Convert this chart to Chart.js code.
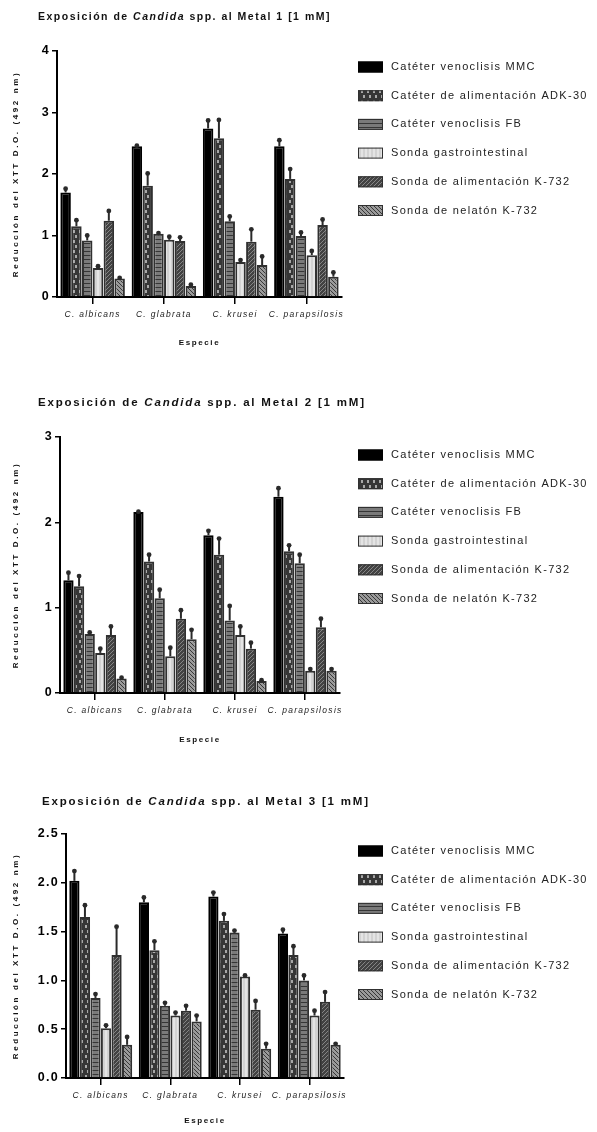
<!DOCTYPE html>
<html><head><meta charset="utf-8">
<script src="https://cdn.jsdelivr.net/npm/chart.js@4.4.1/dist/chart.umd.min.js"></script>
<style>
html,body{margin:0;padding:0;background:#fff;width:597px;height:1132px;overflow:hidden;}
.wrap{position:absolute;left:0;width:597px;}
canvas{display:block;}
</style></head><body>
<div class="wrap" style="top:0;height:375px"><canvas id="c1"></canvas></div>
<div class="wrap" style="top:380px;height:380px"><canvas id="c2"></canvas></div>
<div class="wrap" style="top:775px;height:357px"><canvas id="c3"></canvas></div>
<script>
// ---------- DATA ----------
const species = ['C. albicans', 'C. glabrata', 'C. krusei', 'C. parapsilosis'];
const devices = ['Catéter venoclisis MMC', 'Catéter de alimentación ADK-30', 'Catéter venoclisis FB',
                 'Sonda gastrointestinal', 'Sonda de alimentación K-732', 'Sonda de nelatón K-732'];
const yAxisTitle = 'Reducción del XTT D.O. (492 nm)';
const xAxisTitle = 'Especie';

// Metal 1
const m1_MMC  = [1.70, 2.45, 2.74, 2.45];  const m1_MMC_err  = [0.06, 0.01, 0.13, 0.10];
const m1_ADK  = [1.15, 1.81, 2.58, 1.92];  const m1_ADK_err  = [0.10, 0.20, 0.30, 0.16];
const m1_FB   = [0.92, 1.03, 1.23, 0.99];  const m1_FB_err   = [0.08, 0.01, 0.08, 0.06];
const m1_GAS  = [0.47, 0.93, 0.57, 0.68];  const m1_GAS_err  = [0.03, 0.05, 0.03, 0.07];
const m1_ALI  = [1.24, 0.91, 0.90, 1.17];  const m1_ALI_err  = [0.16, 0.06, 0.20, 0.09];
const m1_NEL  = [0.30, 0.18, 0.52, 0.33];  const m1_NEL_err  = [0.01, 0.02, 0.14, 0.07];
const m1_ticks = [0, 1, 2, 3, 4];

// Metal 2
const m2_MMC  = [1.32, 2.12, 1.85, 2.30];  const m2_MMC_err  = [0.09, 0.005, 0.05, 0.10];
const m2_ADK  = [1.25, 1.54, 1.62, 1.66];  const m2_ADK_err  = [0.12, 0.08, 0.19, 0.07];
const m2_FB   = [0.69, 1.11, 0.85, 1.52];  const m2_FB_err   = [0.02, 0.10, 0.17, 0.10];
const m2_GAS  = [0.47, 0.43, 0.68, 0.26];  const m2_GAS_err  = [0.05, 0.10, 0.10, 0.02];
const m2_ALI  = [0.68, 0.87, 0.52, 0.77];  const m2_ALI_err  = [0.10, 0.10, 0.07, 0.10];
const m2_NEL  = [0.17, 0.63, 0.14, 0.26];  const m2_NEL_err  = [0.01, 0.11, 0.01, 0.02];
const m2_ticks = [0, 1, 2, 3];

// Metal 3
const m3_MMC  = [2.02, 1.80, 1.86, 1.48];  const m3_MMC_err  = [0.10, 0.05, 0.04, 0.04];
const m3_ADK  = [1.65, 1.31, 1.61, 1.26];  const m3_ADK_err  = [0.12, 0.09, 0.07, 0.09];
const m3_FB   = [0.82, 0.74, 1.49, 1.00];  const m3_FB_err   = [0.04, 0.03, 0.02, 0.05];
const m3_GAS  = [0.51, 0.64, 1.04, 0.64];  const m3_GAS_err  = [0.03, 0.03, 0.01, 0.05];
const m3_ALI  = [1.26, 0.69, 0.70, 0.78];  const m3_ALI_err  = [0.29, 0.05, 0.09, 0.10];
const m3_NEL  = [0.34, 0.58, 0.30, 0.34];  const m3_NEL_err  = [0.08, 0.06, 0.05, 0.01];
const m3_ticks = [0, 0.5, 1.0, 1.5, 2.0, 2.5];

// ---------- PATTERNS ----------
function pat(w, h, draw) {
  const c = document.createElement('canvas'); c.width = w; c.height = h;
  const g = c.getContext('2d'); draw(g, w, h);
  return document.createElement('canvas').getContext('2d').createPattern(c, 'repeat');
}
const fills = [
  '#000000',
  pat(6, 10, g => { g.fillStyle = '#363636'; g.fillRect(0,0,6,10); g.fillStyle = '#a8a8a8'; g.fillRect(1,0,2,3); g.fillRect(3,5,2,3); }),
  pat(4, 4, g => { g.fillStyle = '#7a7a7a'; g.fillRect(0,0,4,4); g.fillStyle = '#363636'; g.fillRect(0,3,4,1); }),
  pat(4, 1, g => { g.fillStyle = '#d2d2d2'; g.fillRect(0,0,4,1); g.fillStyle = '#e4e4e4'; g.fillRect(1,0,2,1); }),
  pat(4, 4, g => { g.fillStyle = '#424242'; g.fillRect(0,0,4,4); g.fillStyle = '#858585'; for (let i=0;i<4;i++) g.fillRect(i,3-i,1,1); }),
  pat(4, 4, g => { g.fillStyle = '#9a9a9a'; g.fillRect(0,0,4,4); g.fillStyle = '#383838'; for (let i=0;i<4;i++) g.fillRect(i,i,1,1); })
];
const borders = ['#000', '#303030', '#303030', '#303030', '#303030', '#303030'];

const FONT = "'Liberation Sans', Arial, sans-serif";

// ---------- PLUGIN ----------
const decor = {
  id: 'decor',
  beforeDraw(chart) { chart.ctx.letterSpacing = '1.3px'; },
  afterDatasetsDraw(chart) {
    const ctx = chart.ctx, ys = chart.scales.y;
    ctx.save();
    chart.data.datasets.forEach((ds, di) => {
      const meta = chart.getDatasetMeta(di);
      meta.data.forEach((bar, j) => {
        const top = ys.getPixelForValue(ds.data[j]);
        const up = ys.getPixelForValue(ds.data[j] + ds.err[j]);
        ctx.strokeStyle = '#2a2a2a'; ctx.fillStyle = '#2a2a2a'; ctx.lineWidth = 2;
        ctx.beginPath(); ctx.moveTo(bar.x, top); ctx.lineTo(bar.x, up); ctx.stroke();
        ctx.beginPath(); ctx.arc(bar.x, up, 2.4, 0, Math.PI * 2); ctx.fill();
      });
    });
    ctx.restore();
  },
  afterDraw(chart) {
    const o = chart.options.plugins.decor, ctx = chart.ctx, a = chart.chartArea;
    ctx.save();
    // title
    ctx.textBaseline = 'middle'; ctx.textAlign = 'left'; ctx.fillStyle = '#111';
    ctx.letterSpacing = o.titleSpacing + 'px';
    let x = o.titleX;
    o.titleParts.forEach(p => {
      ctx.font = (p.italic ? 'italic ' : '') + 'bold ' + o.titleSize + 'px ' + FONT;
      ctx.fillText(p.text, x, o.titleY);
      x += ctx.measureText(p.text).width;
    });
    // y axis title
    ctx.save();
    ctx.translate(o.yTitleX, (a.top + a.bottom) / 2);
    ctx.rotate(-Math.PI / 2);
    ctx.textAlign = 'center'; ctx.font = 'bold 8px ' + FONT; ctx.letterSpacing = '2.6px';
    ctx.fillText(yAxisTitle, 0, 0);
    ctx.restore();
    // x axis title
    ctx.textAlign = 'center'; ctx.font = 'bold 8px ' + FONT; ctx.letterSpacing = '1.6px';
    ctx.fillText(xAxisTitle, (a.left + a.right) / 2, o.xTitleY);
    // legend
    ctx.textAlign = 'left'; ctx.font = '11px ' + FONT; ctx.letterSpacing = '1.3px';
    chart.data.datasets.forEach((ds, i) => {
      const cy = o.legendY + i * 28.7;
      ctx.fillStyle = ds.backgroundColor; ctx.fillRect(358, cy - 5.5, 25, 11);
      ctx.strokeStyle = ds.borderColor; ctx.lineWidth = 1; ctx.strokeRect(358.5, cy - 5, 24, 10);
      ctx.fillStyle = '#222';
      ctx.fillText(ds.label, 391, cy);
    });
    ctx.restore();
  }
};

function makeChart(id, cfg) {
  const seriesVals = cfg.values, seriesErr = cfg.errs;
  const h = cfg.height;
  return new Chart(document.getElementById(id), {
    type: 'bar',
    data: {
      labels: species,
      datasets: devices.map((d, i) => ({
        label: d, data: seriesVals[i], err: seriesErr[i],
        backgroundColor: fills[i], borderColor: borders[i], borderWidth: 2,
        categoryPercentage: 0.91, barPercentage: 0.97
      }))
    },
    options: {
      responsive: true, maintainAspectRatio: false, animation: false, devicePixelRatio: 1,
      layout: { padding: { top: cfg.area.top, right: 597 - cfg.area.right, bottom: 0, left: 0 } },
      plugins: {
        legend: { display: false }, tooltip: { enabled: false },
        decor: cfg.decor
      },
      scales: {
        x: {
          offset: true,
          grid: { offset: false, drawOnChartArea: false, drawTicks: true, tickLength: 7, color: '#000', lineWidth: 1.5 },
          border: { display: true, color: '#000', width: 2 },
          ticks: { color: '#222', font: { family: FONT, size: 8.5, style: 'italic' }, padding: 6, maxRotation: 0, autoSkip: false },
          afterFit: s => { s.height = h - cfg.area.bottom; }
        },
        y: {
          min: 0, max: cfg.ticks[cfg.ticks.length - 1],
          afterBuildTicks: s => { s.ticks = cfg.ticks.map(v => ({ value: v })); },
          grid: { drawOnChartArea: false, drawTicks: true, tickLength: 5, color: '#000', lineWidth: 1.5 },
          border: { display: true, color: '#000', width: 2 },
          ticks: { color: '#000', font: { family: FONT, size: 12.5, weight: 'bold' }, padding: 2,
                   callback: v => Number(v).toFixed(cfg.decimals) },
          afterFit: s => { s.width = cfg.area.left; }
        }
      }
    },
    plugins: [decor]
  });
}

const titleParts = n => [
  { text: 'Exposición de ', italic: false },
  { text: 'Candida', italic: true },
  { text: ' spp. al Metal ' + n + ' [1 mM]', italic: false }
];

makeChart('c1', {
  height: 375, area: { left: 57, top: 51, right: 342, bottom: 297 }, ticks: m1_ticks, decimals: 0,
  values: [m1_MMC, m1_ADK, m1_FB, m1_GAS, m1_ALI, m1_NEL],
  errs: [m1_MMC_err, m1_ADK_err, m1_FB_err, m1_GAS_err, m1_ALI_err, m1_NEL_err],
  decor: { titleParts: titleParts(1), titleX: 38, titleY: 17, titleSize: 10.5, titleSpacing: 1.5,
           yTitleX: 16, xTitleY: 343, legendY: 67 }
});
makeChart('c2', {
  height: 380, area: { left: 60, top: 57, right: 340, bottom: 313 }, ticks: m2_ticks, decimals: 0,
  values: [m2_MMC, m2_ADK, m2_FB, m2_GAS, m2_ALI, m2_NEL],
  errs: [m2_MMC_err, m2_ADK_err, m2_FB_err, m2_GAS_err, m2_ALI_err, m2_NEL_err],
  decor: { titleParts: titleParts(2), titleX: 38, titleY: 23, titleSize: 11.5, titleSpacing: 1.8,
           yTitleX: 16, xTitleY: 360, legendY: 75 }
});
makeChart('c3', {
  height: 357, area: { left: 66, top: 59, right: 344, bottom: 303 }, ticks: m3_ticks, decimals: 1,
  values: [m3_MMC, m3_ADK, m3_FB, m3_GAS, m3_ALI, m3_NEL],
  errs: [m3_MMC_err, m3_ADK_err, m3_FB_err, m3_GAS_err, m3_ALI_err, m3_NEL_err],
  decor: { titleParts: titleParts(3), titleX: 42, titleY: 27, titleSize: 11.5, titleSpacing: 1.8,
           yTitleX: 16, xTitleY: 346, legendY: 76 }
});
</script>
</body></html>
